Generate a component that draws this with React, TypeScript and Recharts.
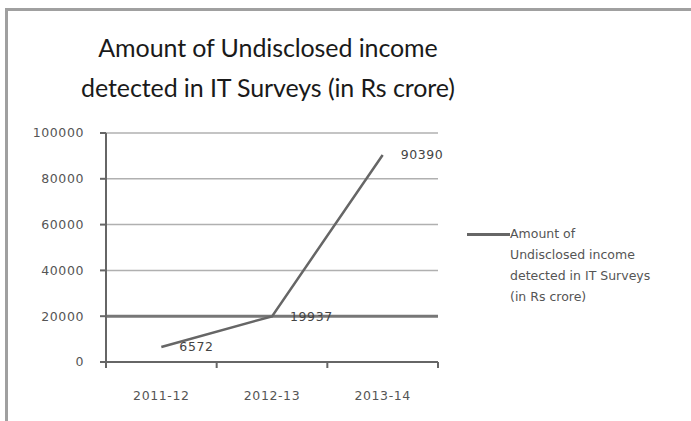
import React from 'react';
import {
  LineChart,
  Line,
  XAxis,
  YAxis,
  CartesianGrid,
  ReferenceLine,
  LabelList,
} from 'recharts';

const years = ['2011-12', '2012-13', '2013-14'];
const amounts = [6572, 19937, 90390];
const yTicks = [0, 20000, 40000, 60000, 80000, 100000];
const seriesName = 'Amount of Undisclosed income detected in IT Surveys (in Rs crore)';
const titleLines = ['Amount of Undisclosed income', 'detected in IT Surveys (in Rs crore)'];
const legendLines = ['Amount of', 'Undisclosed income', 'detected in IT Surveys', '(in Rs crore)'];

const data = years.map((year, i) => ({ year, amount: amounts[i] }));

const tickFont = 'DejaVu Sans, sans-serif';

const XTick = (props: any) => {
  const { x, y, payload, index } = props;
  const half = payload.offset || 0;
  const top = y - 8;
  return (
    <g>
      <line x1={x - half} x2={x - half} y1={top} y2={top + 6} stroke="#666" strokeWidth={2} />
      {index === years.length - 1 && (
        <line x1={x + half} x2={x + half} y1={top} y2={top + 6} stroke="#666" strokeWidth={2} />
      )}
      <text x={x} y={y + 30} textAnchor="middle" fill="#555" fontSize={12.5} fontFamily={tickFont} letterSpacing={0.6}>
        {payload.value}
      </text>
    </g>
  );
};

const App = () => {
  return (
    <div style={{ position: 'absolute', left: 0, top: 0, width: 691, height: 421, background: '#fff', overflow: 'hidden' }}>
      <div style={{ position: 'absolute', left: 5, top: 8, width: 686, height: 413, borderTop: '3px solid #a0a0a0', borderLeft: '3px solid #a0a0a0', boxSizing: 'border-box' }} />
      <div
        style={{
          position: 'absolute',
          left: 0,
          top: 27,
          width: 691,
          textAlign: 'center',
          fontFamily: 'Lato, sans-serif',
          fontSize: 25,
          lineHeight: '40px',
          color: '#1a1a1a',
          letterSpacing: -0.1,
        }}
      >
        {titleLines.map((t) => (
          <div key={t} style={{ marginLeft: -155 }}>{t}</div>
        ))}
      </div>
      <LineChart
        width={691}
        height={421}
        data={data}
        margin={{ top: 133, right: 253, bottom: 0, left: 0 }}
        style={{ position: 'absolute', left: 0, top: 0 }}
      >
        <CartesianGrid vertical={false} stroke="#b0b0b0" strokeWidth={1.5} />
        <ReferenceLine y={20000} stroke="#777" strokeWidth={3} />
        <XAxis
          dataKey="year"
          scale="band"
          height={59}
          axisLine={{ stroke: '#666', strokeWidth: 2 }}
          tickLine={false}
          tick={<XTick />}
          interval={0}
        />
        <YAxis
          width={106}
          domain={[0, 100000]}
          ticks={yTicks}
          axisLine={{ stroke: '#666', strokeWidth: 2 }}
          tickLine={{ stroke: '#666', strokeWidth: 2 }}
          tickSize={6}
          tickMargin={16}
          tick={{ fill: '#555', fontSize: 12.5, fontFamily: tickFont, letterSpacing: 0.6 }}
        />
        <Line
          type="linear"
          dataKey="amount"
          name={seriesName}
          stroke="#666"
          strokeWidth={2.5}
          dot={false}
          isAnimationActive={false}
        >
          <LabelList
            dataKey="amount"
            position="right"
            offset={18}
            fill="#444"
            fontSize={12.5}
            fontFamily={tickFont}
            letterSpacing={0.6}
          />
        </Line>
      </LineChart>
      <div
        style={{
          position: 'absolute',
          left: 467,
          top: 223,
          width: 220,
          fontFamily: tickFont,
          fontSize: 12.5,
          color: '#555',
          lineHeight: '21px',
        }}
      >
        <div style={{ position: 'absolute', left: 0, top: 10, width: 43, height: 3, background: '#666' }} />
        <div style={{ marginLeft: 43 }}>
          {legendLines.map((l) => (
            <div key={l}>{l}</div>
          ))}
        </div>
      </div>
    </div>
  );
};

export default App;
